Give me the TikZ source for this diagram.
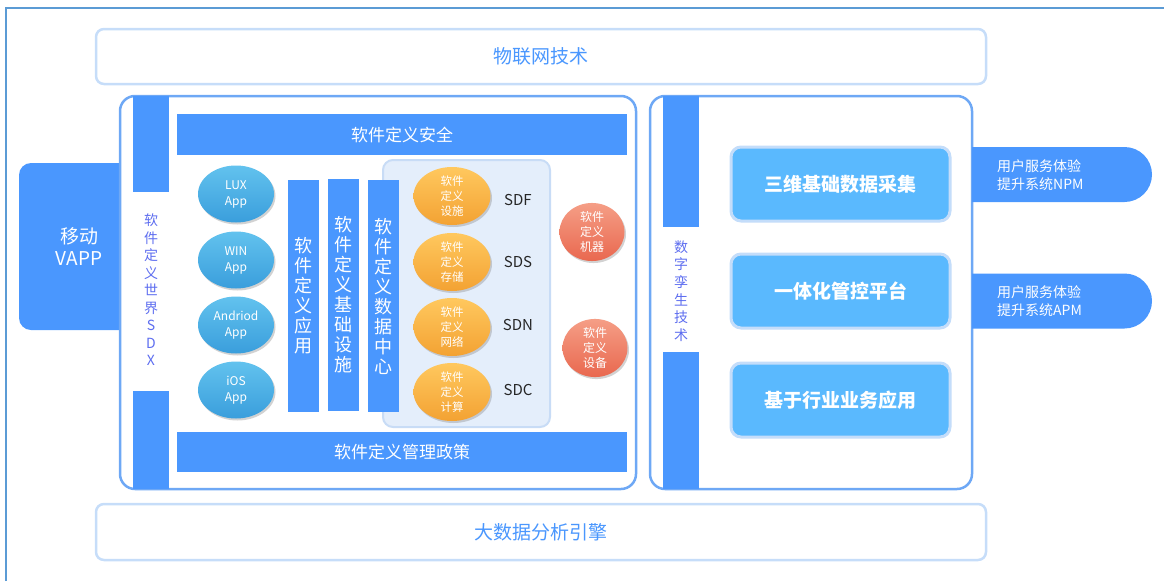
\documentclass[tikz,border=0pt]{standalone}
\usepackage{fontspec}
\setmainfont{Noto Sans CJK SC}
\usetikzlibrary{shapes.geometric,shapes.misc,shadows}
\definecolor{barblue}{HTML}{4A97FE}
\definecolor{outerline}{HTML}{5B9BD5}
\definecolor{lightline}{HTML}{C6DDF9}
\definecolor{mainline}{HTML}{6EA8F5}
\definecolor{sdxtext}{HTML}{5E6EF0}
\definecolor{panelfill}{HTML}{E4EEFB}
\definecolor{panelline}{HTML}{C8DCF6}
\definecolor{rbox}{HTML}{5AB9FE}
\definecolor{rboxline}{HTML}{C4DDFA}
\definecolor{appTop}{HTML}{62C2EE}
\definecolor{appBot}{HTML}{3A9EDC}
\definecolor{orTop}{HTML}{FFC85E}
\definecolor{orBot}{HTML}{F3A233}
\definecolor{redTop}{HTML}{F59E86}
\definecolor{redBot}{HTML}{E9684F}
\begin{document}
\begin{tikzpicture}[x=1pt,y=-1pt,
  lightbox/.style={draw=lightline, line width=2.5pt, rounded corners=8pt, fill=white, inner sep=0pt, text=barblue, font=\fontsize{19}{22}\selectfont},
  mainbox/.style={draw=mainline, line width=2.5pt, rounded corners=15pt, fill=white, inner sep=0pt},
  bar/.style={fill=barblue, inner sep=0pt, text=white},
  hbartext/.style={font=\fontsize{17}{20}\selectfont},
  vbartext/.style={align=center, font=\fontsize{18}{20}\selectfont},
  vtext/.style={align=center, inner sep=0pt, text=sdxtext, font=\fontsize{14}{17.5}\selectfont},
  app/.style={ellipse, minimum width=76pt, minimum height=57pt, inner sep=0pt, top color=appTop, bottom color=appBot, drop shadow={opacity=0.35, shadow xshift=1.5pt, shadow yshift=-2pt}, text=white, align=center, font=\fontsize{12}{16}\selectfont},
  orell/.style={ellipse, minimum width=77pt, minimum height=58pt, inner sep=0pt, top color=orTop, bottom color=orBot, drop shadow={opacity=0.35, shadow xshift=1.5pt, shadow yshift=-2pt}, text=white, align=center, font=\fontsize{11.5}{15}\selectfont},
  redell/.style={ellipse, minimum width=65pt, minimum height=58pt, inner sep=0pt, top color=redTop, bottom color=redBot, drop shadow={opacity=0.35, shadow xshift=1.5pt, shadow yshift=-2pt}, text=white, align=center, font=\fontsize{12}{15}\selectfont},
  sdlabel/.style={text=black!85, font=\fontsize{15}{18}\selectfont},
  rightbox/.style={draw=rboxline, line width=3pt, fill=rbox, rounded corners=10pt, minimum width=219pt, minimum height=74pt, inner sep=0pt, text=white, font=\bfseries\fontsize{19}{22}\selectfont},
  bubble/.style={rounded rectangle, rounded rectangle west arc=none, fill=barblue, minimum width=180pt, minimum height=55pt, inner sep=0pt},
  bubbletext/.style={align=left, text=white, inner sep=0pt, anchor=west, font=\fontsize{14}{18}\selectfont}
]
\useasboundingbox (0,0) rectangle (1164,581);
% outer frame
\coordinate (fa) at (6,581);
\coordinate (fb) at (6,8);
\coordinate (fc) at (1164,8);
\draw[outerline, line width=1.5pt] (fa) -- (fb) -- (fc);

% top and bottom boxes
\node[lightbox, minimum width=890pt, minimum height=55pt] (iot) at (541,56.5) {物联网技术};
\node[lightbox, minimum width=890pt, minimum height=56pt] (bigdata) at (541,532) {大数据分析引擎};

% mobile VAPP
\node[fill=barblue, rounded corners=12pt, minimum width=120pt, minimum height=167pt, inner sep=0pt, text=white, align=center, font=\fontsize{19}{22}\selectfont] (vapp) at (79,246.5) {移动\\VAPP};

% main boxes
\node[mainbox, minimum width=516pt, minimum height=393pt] (leftmain) at (378,292.5) {};
\node[mainbox, minimum width=322pt, minimum height=393pt] (rightmain) at (811,292.5) {};

% SDX bar
\node[bar, minimum width=36pt, minimum height=96pt] (sdxtop) at (151,144) {};
\node[bar, minimum width=36pt, minimum height=98pt] (sdxbot) at (151,440) {};
\node[vtext] (sdxtxt) at (151,290) {软\\件\\定\\义\\世\\界\\S\\D\\X};

% horizontal bars
\node[bar, hbartext, minimum width=450pt, minimum height=41pt] (security) at (402,134.5) {软件定义安全};
\node[bar, hbartext, minimum width=450pt, minimum height=40pt] (policy) at (402,452) {软件定义管理政策};

% apps
\node[app] (lux) at (236,194) {LUX\\App};
\node[app] (win) at (236,260) {WIN\\App};
\node[app] (andr) at (236,325) {Andriod\\App};
\node[app] (ios) at (236,390) {iOS\\App};

% panel
\node[draw=panelline, fill=panelfill, line width=2pt, rounded corners=10pt, minimum width=167pt, minimum height=267pt, inner sep=0pt] (panel) at (466.5,293.5) {};

% vertical bars
\node[bar, vbartext, minimum width=31pt, minimum height=232pt] (sdapp) at (303.5,296) {软\\件\\定\\义\\应\\用};
\node[bar, vbartext, minimum width=31pt, minimum height=232pt] (sdinfra) at (343.5,295) {软\\件\\定\\义\\基\\础\\设\\施};
\node[bar, vbartext, minimum width=31pt, minimum height=232pt] (sddc) at (383.5,296) {软\\件\\定\\义\\数\\据\\中\\心};

% orange ellipses
\node[orell] (sdf) at (452,196) {软件\\定义\\设施};
\node[orell] (sds) at (452,262) {软件\\定义\\存储};
\node[orell] (sdn) at (452,327) {软件\\定义\\网络};
\node[orell] (sdc) at (452,392) {软件\\定义\\计算};
\node[sdlabel] (sdfl) at (518,200) {SDF};
\node[sdlabel] (sdsl) at (518,262) {SDS};
\node[sdlabel] (sdnl) at (518,325) {SDN};
\node[sdlabel] (sdcl) at (518,390) {SDC};

% red ellipses
\node[redell] (machine) at (592,232) {软件\\定义\\机器};
\node[redell] (device) at (595,348) {软件\\定义\\设备};

% right panel bar
\node[bar, minimum width=36pt, minimum height=131pt] (dttop) at (681,161.5) {};
\node[bar, minimum width=36pt, minimum height=137pt] (dtbot) at (681,420.5) {};
\node[vtext, font=\fontsize{14}{17.6}\selectfont] (dttxt) at (681,291) {数\\字\\孪\\生\\技\\术};

% right boxes
\node[rightbox] (r1) at (840.5,184) {三维基础数据采集};
\node[rightbox] (r2) at (840.5,291) {一体化管控平台};
\node[rightbox] (r3) at (840.5,400) {基于行业业务应用};

% bubbles
\node[bubble] (npm) at (1062,174.5) {};
\node[bubble] (apm) at (1062,301) {};
\node[bubbletext] (npmt) at (997,175) {用户服务体验\\提升系统NPM};
\node[bubbletext] (apmt) at (997,301) {用户服务体验\\提升系统APM};
\end{tikzpicture}
\end{document}
